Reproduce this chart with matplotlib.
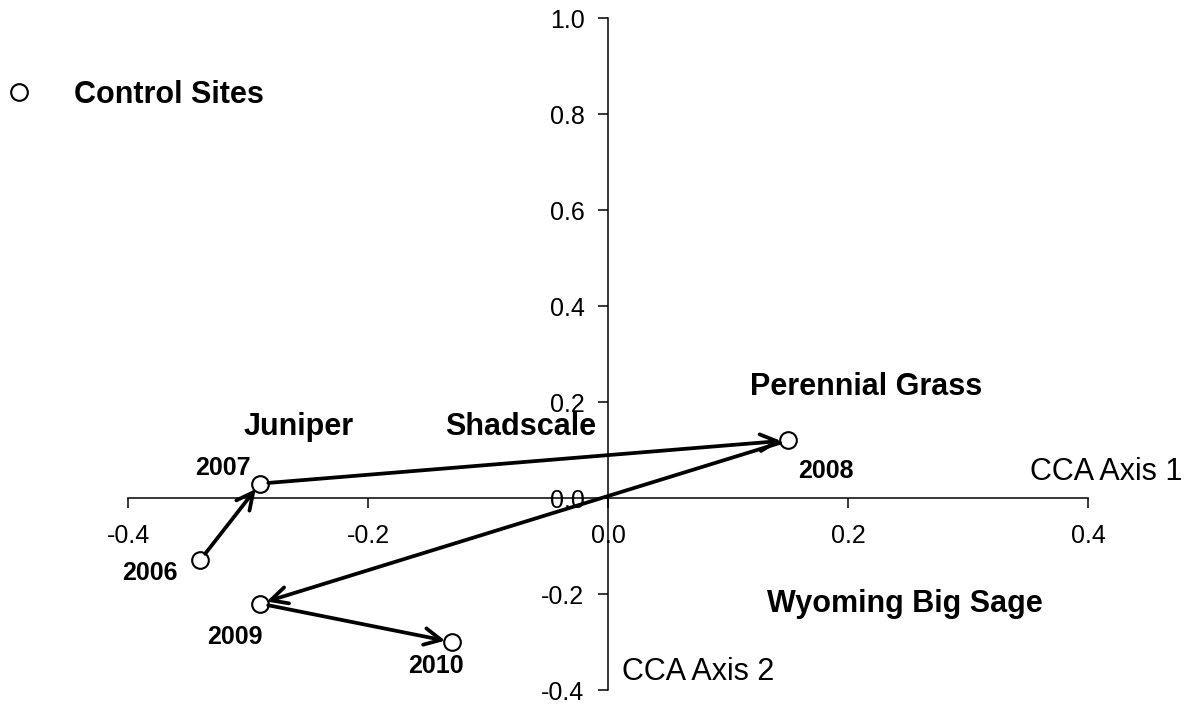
import matplotlib
matplotlib.use("Agg")
import matplotlib.pyplot as plt
from matplotlib.lines import Line2D

plt.rcParams['font.family'] = ['Liberation Sans', 'DejaVu Sans']
plt.rcParams['axes.unicode_minus'] = False

# ---- data ----
years = ['2006', '2007', '2008', '2009', '2010']
axis1 = [-0.34, -0.29, 0.15, -0.29, -0.13]
axis2 = [-0.13, 0.03, 0.12, -0.22, -0.30]

species = ['Juniper', 'Shadscale', 'Perennial Grass', 'Wyoming Big Sage']
species_x = [-0.258, -0.0725, 0.215, 0.2475]
species_y = [0.148, 0.147, 0.231, -0.221]

xticks = [-0.4, -0.2, 0.0, 0.2, 0.4]
yticks = [-0.4, -0.2, 0.0, 0.2, 0.4, 0.6, 0.8, 1.0]
xticklabels = ['-0.4', '-0.2', '0.0', '0.2', '0.4']
yticklabels = ['-0.4', '-0.2', '0.0', '0.2', '0.4', '0.6', '0.8', '1.0']

# offsets (points) of year labels from their points
year_offsets = [(-36, -9), (-27, 11.5), (27, -22), (-18, -24), (-11.5, -17)]

W, H = 1190, 706
fig = plt.figure(figsize=(W / 100, H / 100), dpi=100)
ax = fig.add_axes([128 / W, 16 / H, 960 / W, 672 / H])
ax.set_xlim(-0.4, 0.4)
ax.set_ylim(-0.4, 1.0)

for s in ['top', 'right']:
    ax.spines[s].set_visible(False)
ax.spines['left'].set_position(('data', 0))
ax.spines['bottom'].set_position(('data', 0))
ax.spines['left'].set_linewidth(1.1)
ax.spines['bottom'].set_linewidth(1.1)

ax.set_xticks(xticks)
ax.set_xticklabels(xticklabels)
ax.set_yticks(yticks)
ax.set_yticklabels(yticklabels)
ax.tick_params(axis='x', direction='out', length=7, width=1.1, labelsize=18, pad=12)
ax.tick_params(axis='y', direction='out', length=7, width=1.1, labelsize=18, pad=10)

# arrows between successive years
for i in range(len(years) - 1):
    ax.annotate('', xy=(axis1[i + 1], axis2[i + 1]), xytext=(axis1[i], axis2[i]),
                arrowprops=dict(arrowstyle='->, head_length=0.6, head_width=0.3',
                                mutation_scale=20, lw=2.7, color='black',
                                shrinkA=6, shrinkB=5))

ax.plot(axis1, axis2, ls='none', marker='o', ms=12, mfc='none', mec='black', mew=1.5,
        zorder=5)

for yr, x, y, off in zip(years, axis1, axis2, year_offsets):
    ax.annotate(yr, xy=(x, y), xytext=off, textcoords='offset points',
                ha='center', va='center', fontsize=18, fontweight='bold')

for name, x, y in zip(species, species_x, species_y):
    ax.text(x, y, name, ha='center', va='center', fontsize=22, fontweight='bold')

ax.text(0.415, 0.054, 'CCA Axis 1', ha='center', va='center', fontsize=22)
ax.text(0.012, -0.3625, 'CCA Axis 2', ha='left', va='center', fontsize=22)

handle = Line2D([], [], ls='none', marker='o', ms=12, mfc='white', mec='black', mew=1.5)
fig.legend(handles=[handle], labels=['Control Sites'], loc='center left',
           bbox_to_anchor=(4 / W, 1 - 95 / H), frameon=False, numpoints=1,
           prop={'weight': 'bold', 'size': 22}, handlelength=1.0, handletextpad=1.3,
           borderpad=0, borderaxespad=0)

fig.savefig('out.png', dpi=100)
